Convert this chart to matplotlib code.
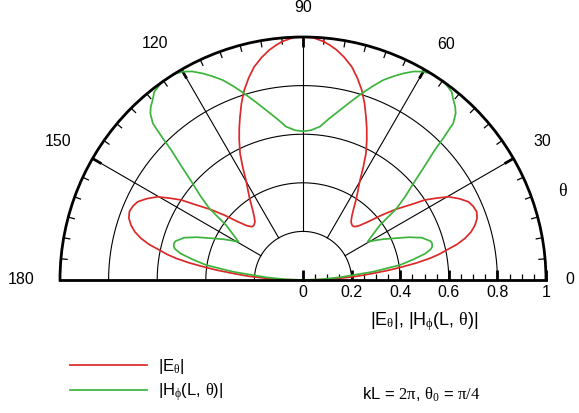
import numpy as np
import matplotlib
matplotlib.use("Agg")
import matplotlib.pyplot as plt
from matplotlib.path import Path

plt.rcParams["font.family"] = ["Liberation Sans", "DejaVu Sans"]
plt.rcParams["mathtext.fontset"] = "custom"
plt.rcParams["mathtext.rm"] = "Liberation Serif"
plt.rcParams["mathtext.it"] = "Liberation Serif"

# |E_theta| pattern, angle in degrees (0..90 then 90..180)
e_theta_right = [0, 1.3, 2.6, 4, 5.4, 6.5, 7.6, 8.6, 9.7, 10.7, 11.8, 13, 14.4, 16, 17.7,
                 19.5, 21.5, 23.5, 25.3, 27.5, 29.8, 31.5, 33.3, 35, 37.3, 39.5, 41.8, 44,
                 46, 47.5, 49, 50.5, 52.5, 54.3, 57, 60.3, 61.7, 63.5, 65.5, 67.2, 68.9,
                 70.8, 72.8, 75, 77.1, 79.5, 81.7, 83.5, 85, 87.6, 90]
e_mag_right = [0, 0.08, 0.152, 0.225, 0.29, 0.355, 0.416, 0.475, 0.53, 0.57, 0.604, 0.65,
               0.688, 0.72, 0.743, 0.76, 0.768, 0.763, 0.753, 0.725, 0.689, 0.645, 0.6,
               0.54, 0.48, 0.42, 0.36, 0.322, 0.305, 0.302, 0.305, 0.311, 0.33, 0.355,
               0.405, 0.474, 0.52, 0.58, 0.633, 0.677, 0.72, 0.77, 0.818, 0.862, 0.9,
               0.932, 0.957, 0.973, 0.985, 0.998, 1.0]
e_theta_left = [92.4, 95, 96.5, 98.3, 100.5, 102.9, 105, 107.2, 109.2, 111.1, 112.8, 114.5,
                116.5, 118.3, 119.7, 123, 125.7, 127.5, 129.5, 131, 132.5, 134, 136, 138.2,
                140.5, 142.7, 145, 146.7, 148.5, 150.2, 152.5, 154.7, 156.5, 158.5, 160.5,
                162.3, 164, 165.6, 167, 168.2, 169.3, 170.3, 171.4, 172.4, 173.5, 174.6,
                176, 177.4, 178.7, 180]
e_mag_left = [0.998, 0.985, 0.973, 0.957, 0.932, 0.9, 0.862, 0.818, 0.77, 0.72, 0.677,
              0.633, 0.58, 0.52, 0.474, 0.405, 0.355, 0.33, 0.311, 0.305, 0.302, 0.305,
              0.322, 0.36, 0.42, 0.48, 0.54, 0.6, 0.645, 0.689, 0.725, 0.753, 0.763, 0.768,
              0.76, 0.743, 0.72, 0.688, 0.65, 0.604, 0.57, 0.53, 0.475, 0.416, 0.355, 0.29,
              0.225, 0.152, 0.08, 0]

# |H_phi(L, theta)| pattern
h_theta_right = [0, 2, 4.2, 6.7, 8.8, 10.5, 12.2, 13.5, 14.3, 15.2, 16, 17, 19.6, 22,
                 24.4, 27, 29, 30.6, 32.3, 35.5, 37.4, 39.3, 41.2, 43, 44.6, 45.3, 46.2,
                 47.5, 48.7, 50.1, 51.7, 54, 55.5, 57, 58.5, 60, 62, 64.1, 66, 68.1, 70.2,
                 72.5, 75, 77.7, 81, 83.7, 87, 90]
h_mag_right = [0, 0.07, 0.153, 0.29, 0.404, 0.46, 0.515, 0.54, 0.548, 0.551, 0.552, 0.548,
               0.519, 0.47, 0.416, 0.37, 0.335, 0.309, 0.331, 0.389, 0.485, 0.545, 0.604,
               0.68, 0.762, 0.82, 0.893, 0.93, 0.949, 0.965, 0.987, 0.998, 1.0, 1.0, 0.997,
               0.99, 0.972, 0.945, 0.918, 0.887, 0.848, 0.805, 0.76, 0.716, 0.67, 0.635,
               0.617, 0.612]
h_theta_left = [93, 96.3, 99, 102.3, 105, 107.5, 109.8, 111.9, 114, 115.9, 118, 120, 121.5,
                123, 124.5, 126, 128.3, 129.9, 131.3, 132.5, 133.8, 134.7, 135.4, 137,
                138.8, 140.7, 142.6, 144.5, 147.7, 149.4, 151, 153, 155.6, 158, 160.4, 163,
                164, 164.8, 165.7, 166.5, 167.8, 169.5, 171.2, 173.3, 175.8, 178, 180]
h_mag_left = [0.617, 0.635, 0.67, 0.716, 0.76, 0.805, 0.848, 0.887, 0.918, 0.945, 0.972,
              0.99, 0.997, 1.0, 1.0, 0.998, 0.987, 0.965, 0.949, 0.93, 0.893, 0.82, 0.762,
              0.68, 0.604, 0.545, 0.485, 0.389, 0.331, 0.309, 0.335, 0.37, 0.416, 0.47,
              0.519, 0.548, 0.552, 0.551, 0.548, 0.54, 0.515, 0.46, 0.404, 0.29, 0.153,
              0.07, 0]

e_theta = e_theta_right + e_theta_left
e_mag = e_mag_right + e_mag_left
h_theta = h_theta_right + h_theta_left
h_mag = h_mag_right + h_mag_left

rings = [0.2, 0.4, 0.6, 0.8]
spokes = [30, 60, 90, 120, 150]
r_major = [0, 0.2, 0.4, 0.6, 0.8, 1.0]
r_major_labels = ["0", "0.2", "0.4", "0.6", "0.8", "1"]
r_minor = [0.05, 0.1, 0.15, 0.25, 0.3, 0.35, 0.45, 0.5, 0.55, 0.65, 0.7, 0.75,
           0.85, 0.9, 0.95]
angle_labels = ["0", "30", "60", "90", "120", "150", "180"]

RED = "#dc2828"
GREEN = "#3cb43c"

W, H = 579, 413
fig = plt.figure(figsize=(W / 100, H / 100), dpi=100)
# a half-disc polar axes sits in the middle half of a square box,
# so the box is 2R wide and tall with the baseline at 1/4 height
R, cx, cy = 243, 303, 280
side = 2 * R
bottom = cy + side / 4
ax = fig.add_axes([(cx - R) / W, (H - bottom) / H, side / W, side / H], projection="polar")
ax.set_thetamin(0)
ax.set_thetamax(180)
ax.set_ylim(0, 1)
ax.grid(False)
ax.set_xticks([])
ax.set_yticks([])
for name in ("polar", "start", "end"):
    ax.spines[name].set_linewidth(2)
ax.spines["inner"].set_visible(False)

# grid: rings and spokes that start at the innermost ring
arc = np.linspace(0, np.pi, 361)
for r in rings:
    ax.plot(arc, np.full_like(arc, r), color="k", lw=0.8)
for a in spokes:
    ax.plot([np.deg2rad(a)] * 2, [0.2, 1.0], color="k", lw=0.8)

# ticks along the rim, every 5 deg, heavier every 30 deg
for a in range(5, 180, 5):
    t = np.deg2rad(a)
    if a % 30 == 0:
        ax.plot([t, t], [0.958, 1.0], color="k", lw=2, solid_capstyle="butt")
    else:
        ax.plot([t, t], [0.972, 1.0], color="k", lw=0.9, solid_capstyle="butt")

# radial ticks on the baseline, pointing up
tick_up = Path([(0, 0), (0, 1)])
ax.plot(np.zeros(len(r_major)), r_major, ls="none", marker=tick_up, ms=14.4,
        mew=2, color="k", clip_on=False)
ax.plot(np.zeros(len(r_minor)), r_minor, ls="none", marker=tick_up, ms=8.6,
        mew=0.9, color="k", clip_on=False)
for r, lbl in zip(r_major, r_major_labels):
    ax.annotate(lbl, xy=(0, r), xytext=(0, -3.6), textcoords="offset points",
                ha="center", va="top", fontsize=11.5)

label_pos = [(0, 1.10), (30, 1.138), (58.8, 1.135), (90, 1.12), (122, 1.149),
             (150.5, 1.157), (180, 1.158)]
for (a, r), lbl in zip(label_pos, angle_labels):
    ax.text(np.deg2rad(a), r, lbl, ha="center", va="center", fontsize=11.5)
ax.text(np.deg2rad(18.8), 1.128, r"$\theta$", ha="center", va="center", fontsize=13)

line_e, = ax.plot(np.deg2rad(e_theta), e_mag, color=RED, lw=1.25, label=r"|E$_\theta$|")
line_h, = ax.plot(np.deg2rad(h_theta), h_mag, color=GREEN, lw=1.25,
                  label=r"|H$_\phi$(L, $\theta$)|")

fig.text(424 / W, (H - 322) / H, r"|E$_\theta$|, |H$_\phi$(L, $\theta$)|",
         ha="center", va="center", fontsize=13)

fig.legend(handles=[line_e, line_h], loc="upper left", bbox_to_anchor=(70 / W, 0.136),
           frameon=False, fontsize=12, handlelength=4.6, handletextpad=0.66,
           borderpad=0, borderaxespad=0, labelspacing=0.32)

fig.text(421 / W, 18 / H, r"kL = $2\pi$, $\theta_0$ = $\pi/4$", ha="center",
         va="center", fontsize=12)

fig.savefig("out.png", dpi=100)
